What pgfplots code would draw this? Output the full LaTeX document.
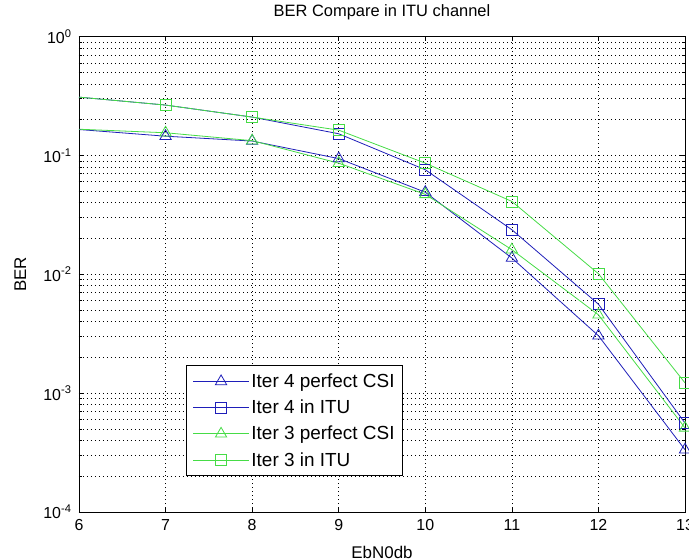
\documentclass[border=0pt]{standalone}
\usepackage{fontspec}
\setmainfont{Liberation Sans}
\usepackage{pgfplots}
\pgfplotsset{compat=1.18}

\definecolor{mblue}{RGB}{30,30,185}
\definecolor{mgreen}{RGB}{70,220,70}

\pgfplotstableread{
x    t4        s4       t3       s3
6    0.165     0.309    0.166    0.309
7    0.145     0.265    0.155    0.265
8    0.132     0.210    0.133    0.210
9    0.094     0.152    0.086    0.163
10   0.049     0.0757   0.047    0.086
11   0.0137    0.0237   0.0161   0.041
12   0.00304   0.0056   0.00456  0.0101
13   0.000334  0.00056  0.00051  0.00122
}\bertable

\begin{document}
\begin{tikzpicture}
\begin{semilogyaxis}[
    name=ax,
    scale only axis,
    width=606bp, height=475.5bp,
    xmin=6, xmax=13, ymin=1e-4, ymax=1,
    xtick={6,...,13},
    ytick={1e-4,1e-3,1e-2,1e-1,1},
    yticklabels={10\textsuperscript{-4},10\textsuperscript{-3},10\textsuperscript{-2},10\textsuperscript{-1},10\textsuperscript{0}},
    minor ytick={2e-4,3e-4,4e-4,5e-4,6e-4,7e-4,8e-4,9e-4,
                 2e-3,3e-3,4e-3,5e-3,6e-3,7e-3,8e-3,9e-3,
                 2e-2,3e-2,4e-2,5e-2,6e-2,7e-2,8e-2,9e-2,
                 2e-1,3e-1,4e-1,5e-1,6e-1,7e-1,8e-1,9e-1},
    /pgf/number format/assume math mode=true,
    every tick label/.append style={font=\fontsize{16}{18}\selectfont},
    xticklabel style={yshift=-4bp},
    yticklabel style={xshift=-4bp},
    tick align=inside,
    major tick length=5bp, minor tick length=3bp,
    tick style={black, line width=0.6bp},
    axis line style={black, line width=0.8bp},
    xmajorgrids, ymajorgrids, yminorgrids,
    grid style={black, line width=0.6bp, dash pattern=on 0.8bp off 3.2bp},
    minor grid style={black, line width=0.6bp, dash pattern=on 0.8bp off 3.2bp},
    title={BER Compare in ITU channel},
    title style={font=\fontsize{16.5}{19}\selectfont, at={(axis description cs:0.5,1.052)}, anchor=center, yshift=-6pt},
    xlabel={EbN0db},
    xlabel style={font=\fontsize{17}{19}\selectfont, at={(axis description cs:0.5,-0.084)}, anchor=center},
    ylabel={BER},
    ylabel style={font=\fontsize{17}{19}\selectfont, at={(axis description cs:-0.097,0.5)}, anchor=center},
    legend cell align=left,
    legend style={at={(0.177,0.0757)}, anchor=south west, draw=black, line width=0.8bp,
        fill=white, font=\fontsize{19}{21}\selectfont, row sep=7bp,
        inner xsep=6bp, inner ysep=6bp},
    legend image code/.code={\draw[#1,mark indices={2}] plot coordinates {(0bp,0bp) (28bp,0bp) (56bp,0bp)};},
    every axis plot/.append style={line width=0.8bp, mark indices={2,3,4,5,6,7,8}},
]
\addplot[mblue, mark=triangle, mark size=6.5bp, mark options={solid, line width=0.8bp}] table[x=x, y=t4] {\bertable};
\addlegendentry{Iter 4 perfect CSI}
\addplot[mblue, mark=square, mark size=5.5bp, mark options={solid, line width=0.8bp}] table[x=x, y=s4] {\bertable};
\addlegendentry{Iter 4 in ITU}
\addplot[mgreen, mark=triangle, mark size=6.5bp, mark options={solid, line width=0.8bp}] table[x=x, y=t3] {\bertable};
\addlegendentry{Iter 3 perfect CSI}
\addplot[mgreen, mark=square, mark size=5.5bp, mark options={solid, line width=0.8bp}] table[x=x, y=s3] {\bertable};
\addlegendentry{Iter 3 in ITU}
\end{semilogyaxis}
\pgfresetboundingbox
\path[use as bounding box] (ax.south west) ++(-79bp,-48bp) rectangle ++(689bp,560bp);
\end{tikzpicture}
\end{document}
